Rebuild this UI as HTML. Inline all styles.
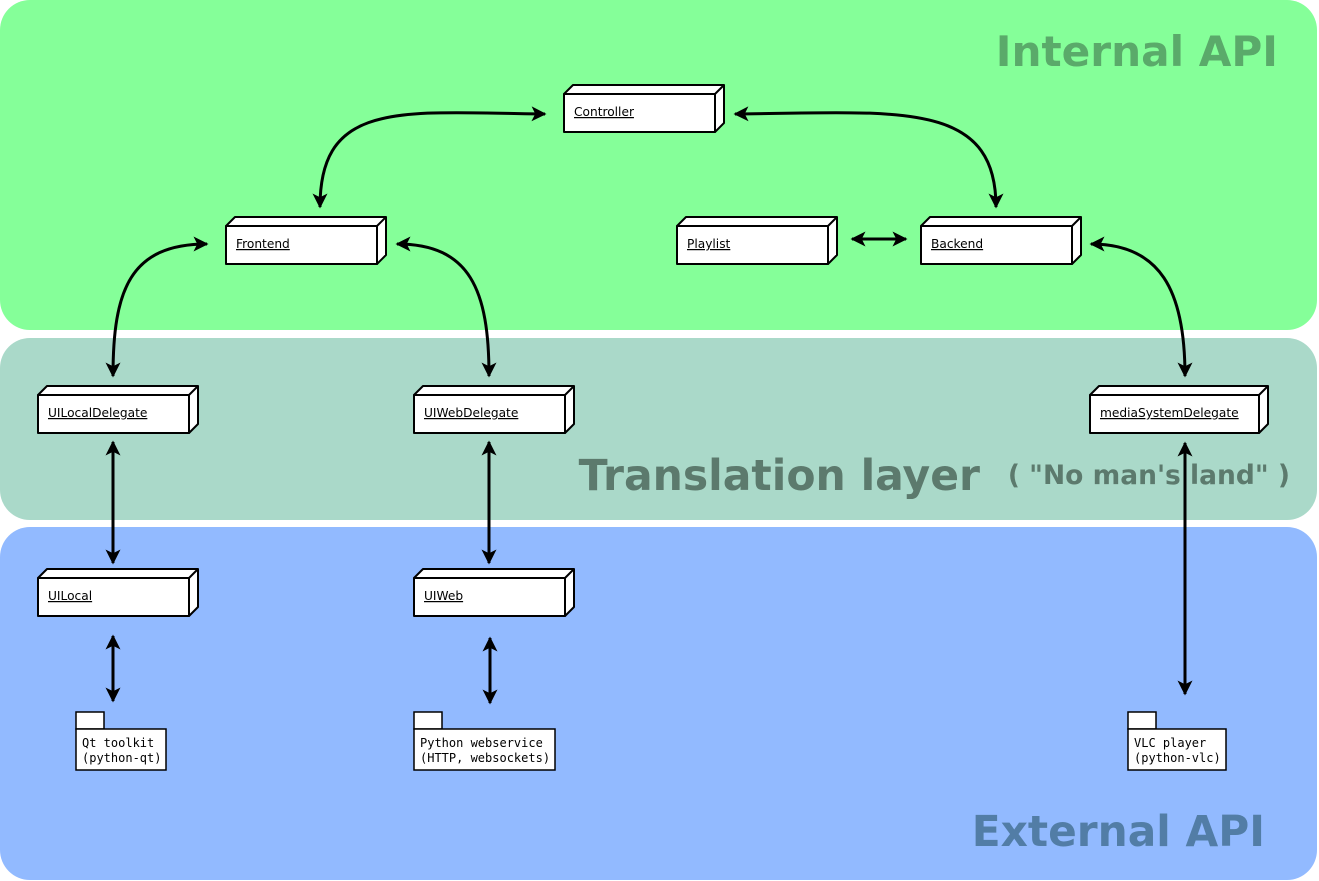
<!DOCTYPE html>
<html><head><style>
html,body{margin:0;padding:0;background:#fff;}
svg{display:block;}
.nl{font-family:"DejaVu Sans","Liberation Sans",sans-serif;font-size:12.2px;text-decoration:underline;}
.pk{font-family:"DejaVu Sans Mono","Liberation Mono",monospace;font-size:12px;}
</style></head><body>
<svg width="1319" height="881" viewBox="0 0 1319 881" xmlns="http://www.w3.org/2000/svg">
<defs>
<marker id="a" viewBox="0 0 10 10" refX="9" refY="5" markerWidth="5" markerHeight="5" orient="auto-start-reverse" markerUnits="strokeWidth">
<path d="M0,0 L10,5 L0,10 L2.5,5 z" fill="#000"/>
</marker>
</defs>
<rect x="0" y="0" width="1317" height="330" rx="30" fill="#85ff99"/>
<rect x="0" y="338" width="1317" height="182" rx="30" fill="#aad9c9"/>
<rect x="0" y="527" width="1317" height="353" rx="30" fill="#92baff"/>
<text x="1278" y="66" text-anchor="end" font-family="DejaVu Sans,Liberation Sans,sans-serif" font-weight="bold" font-size="42.2" fill="#5aaa6a">Internal API</text>
<text x="980" y="490" text-anchor="end" font-family="DejaVu Sans,Liberation Sans,sans-serif" font-weight="bold" font-size="42.5" fill="#5c7a6d">Translation layer</text>
<text x="1290" y="484" text-anchor="end" font-family="DejaVu Sans,Liberation Sans,sans-serif" font-weight="bold" font-size="26.5" fill="#5c7a6d">( "No man's land" )</text>
<text x="1265" y="846" text-anchor="end" font-family="DejaVu Sans,Liberation Sans,sans-serif" font-weight="bold" font-size="42.3" fill="#527da6">External API</text>

<g fill="#fff" stroke="#000" stroke-width="2" stroke-linejoin="round">
<path d="M564,94 L573,85 L724,85 L715,94 Z M715,94 L724,85 L724,123 L715,132 Z"/><rect x="564" y="94" width="151" height="38"/>
<path d="M226,226 L235,217 L386,217 L377,226 Z M377,226 L386,217 L386,255 L377,264 Z"/><rect x="226" y="226" width="151" height="38"/>
<path d="M677,226 L686,217 L837,217 L828,226 Z M828,226 L837,217 L837,255 L828,264 Z"/><rect x="677" y="226" width="151" height="38"/>
<path d="M921,226 L930,217 L1081,217 L1072,226 Z M1072,226 L1081,217 L1081,255 L1072,264 Z"/><rect x="921" y="226" width="151" height="38"/>
<path d="M38,395 L47,386 L198,386 L189,395 Z M189,395 L198,386 L198,424 L189,433 Z"/><rect x="38" y="395" width="151" height="38"/>
<path d="M414,395 L423,386 L574,386 L565,395 Z M565,395 L574,386 L574,424 L565,433 Z"/><rect x="414" y="395" width="151" height="38"/>
<path d="M1090,395 L1099,386 L1268,386 L1259,395 Z M1259,395 L1268,386 L1268,424 L1259,433 Z"/><rect x="1090" y="395" width="169" height="38"/>
<path d="M38,578 L47,569 L198,569 L189,578 Z M189,578 L198,569 L198,607 L189,616 Z"/><rect x="38" y="578" width="151" height="38"/>
<path d="M414,578 L423,569 L574,569 L565,578 Z M565,578 L574,569 L574,607 L565,616 Z"/><rect x="414" y="578" width="151" height="38"/>
</g>
<g fill="#fff" stroke="#000" stroke-width="1.5">
<rect x="76" y="712" width="28" height="17"/><rect x="76" y="729" width="90" height="41"/>
<rect x="414" y="712" width="28" height="17"/><rect x="414" y="729" width="141" height="41"/>
<rect x="1128" y="712" width="28" height="17"/><rect x="1128" y="729" width="98" height="41"/>
</g>
<g class="nl" fill="#000">
<text x="574" y="116">Controller</text>
<text x="236" y="248">Frontend</text>
<text x="687" y="248">Playlist</text>
<text x="931" y="248">Backend</text>
<text x="48" y="417">UILocalDelegate</text>
<text x="424" y="417">UIWebDelegate</text>
<text x="1100" y="417">mediaSystemDelegate </text>
<text x="48" y="600">UILocal</text>
<text x="424" y="600">UIWeb</text>
</g>
<g class="pk" fill="#000">
<text x="82" y="747">Qt toolkit</text><text x="82" y="762">(python-qt)</text>
<text x="420" y="747">Python webservice</text><text x="420" y="762">(HTTP, websockets)</text>
<text x="1134" y="747">VLC player</text><text x="1134" y="762">(python-vlc)</text>
</g>
<g fill="none" stroke="#000" stroke-width="3" marker-start="url(#a)" marker-end="url(#a)">
<path d="M545,114 C 400,112 320,100 320,207"/>
<path d="M735,114 C 900,112 996,100 996,207"/>
<path d="M207,244 C 130,244 113,290 113,376"/>
<path d="M397,244 C 470,244 489,290 489,376"/>
<path d="M1091,244 C 1160,244 1185,290 1185,376"/>
<path d="M852,239 L906,239"/>
<path d="M113,442 L113,563"/>
<path d="M489,442 L489,563"/>
<path d="M113,636 L113,701"/>
<path d="M490,638 L490,703"/>
<path d="M1185,443 L1185,694"/>
</g>
</svg>
</body></html>
